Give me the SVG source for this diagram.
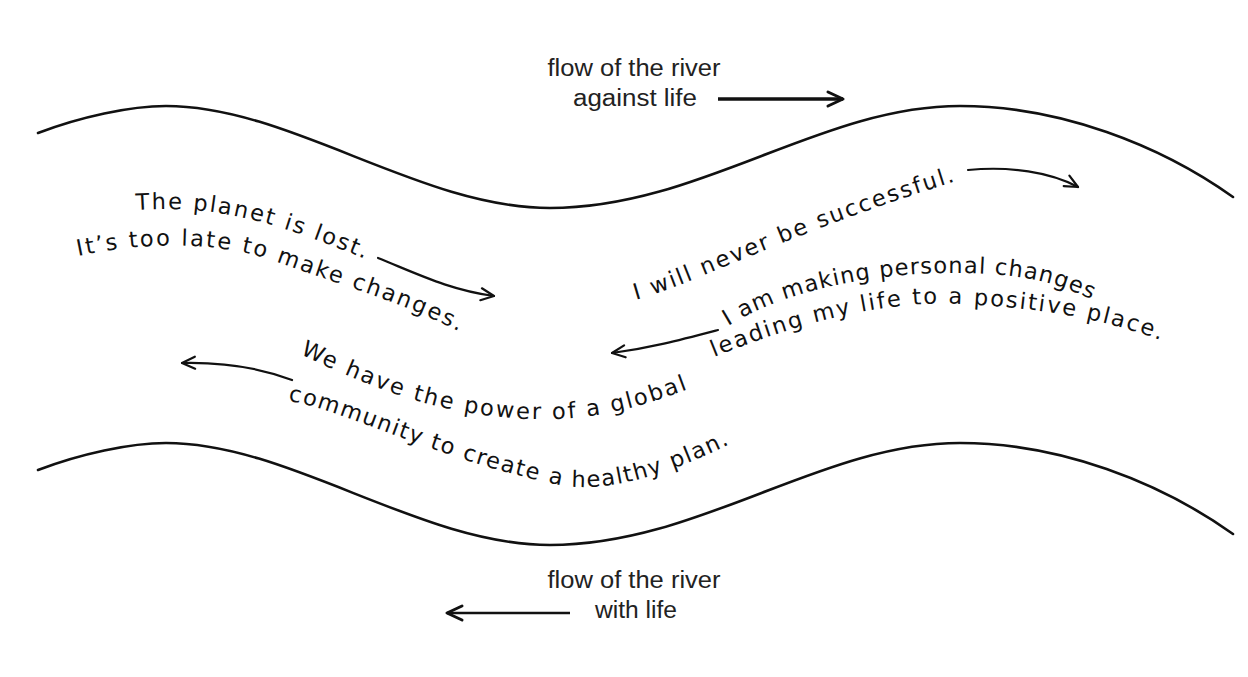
<svg xmlns="http://www.w3.org/2000/svg" width="1248" height="677" viewBox="0 0 1248 677">
  <style>
    .bank { fill: none; stroke: #111; stroke-width: 2.6; stroke-linecap: round; }
    .hand { font-family: "DejaVu Sans", "Liberation Sans", sans-serif; font-size: 22.5px; fill: #111; }
    .title { font-family: "Liberation Sans", Arial, sans-serif; font-size: 23px; fill: #222; text-anchor: middle; }
    .arr { fill: none; stroke: #111; stroke-width: 2.2; stroke-linecap: round; }
    .flow { fill: none; stroke: #111; stroke-linecap: butt; }
  </style>
  <defs>
    <marker id="ah" viewBox="-16 -10 20 20" markerWidth="20" markerHeight="20" refX="0" refY="0" orient="auto" markerUnits="userSpaceOnUse">
      <path d="M-13,-6 L0,0 L-13,6" fill="none" stroke="#111" stroke-width="2.2" stroke-linecap="round" stroke-linejoin="round"/>
    </marker>
    <marker id="ahBig" viewBox="-20 -12 24 24" markerWidth="24" markerHeight="24" refX="0" refY="0" orient="auto" markerUnits="userSpaceOnUse">
      <path d="M-15,-7 L0,0 L-15,7" fill="none" stroke="#111" stroke-width="3" stroke-linecap="round" stroke-linejoin="round"/>
    </marker>
    <path id="p1" d="M136,210 C200,206 255,212 372,262 L392,271"/>
    <path id="p2" d="M78,256 C150,241 220,241 280,263 S400,301 462,333 L482,343"/>
    <path id="p3" d="M636,300 C700,282 790,232 960,180 L980,174"/>
    <path id="p4" d="M728,326 C790,288 880,272 960,273 S1070,288 1114,311 L1130,320"/>
    <path id="p5" d="M714,357 C790,326 880,300 960,304 S1100,318 1160,340 L1178,347"/>
    <path id="p6" d="M300,354 C360,382 420,409 500,417 S630,411 694,387 L712,380"/>
    <path id="p7" d="M288,401 C340,408 440,461 560,485 C610,495 680,469 732,443 L750,434"/>
  </defs>

  <rect width="1248" height="677" fill="#ffffff"/>

  <g id="river-banks">
    <path id="top-bank" class="bank" d="M38,133 C80,117 130,106 166,106 C290,106 420,208 550,208 C700,208 820,106 960,106 C1060,106 1160,145 1233,197"/>
    <path id="bottom-bank" class="bank" d="M38,470 C80,454 130,443 166,443 C290,443 420,545 550,545 C700,545 820,443 960,443 C1060,443 1160,482 1233,534"/>
  </g>

  <g id="label-against">
    <text class="title" x="634" y="76" textLength="173" lengthAdjust="spacingAndGlyphs">flow of the river</text>
    <text class="title" x="635" y="106" textLength="124" lengthAdjust="spacingAndGlyphs">against life</text>
  </g>
  <g id="label-with">
    <text class="title" x="634" y="588" textLength="173" lengthAdjust="spacingAndGlyphs">flow of the river</text>
    <text class="title" x="636" y="618" textLength="82" lengthAdjust="spacingAndGlyphs">with life</text>
  </g>

  <g id="thought-lost">
    <text class="hand" style="letter-spacing:2px"><textPath href="#p1">The planet is lost.</textPath></text>
    <text class="hand" style="letter-spacing:2.1px"><textPath href="#p2">It’s too late to make changes.</textPath></text>
  </g>
  <g id="thought-successful">
    <text class="hand" style="letter-spacing:2px"><textPath href="#p3">I will never be successful.</textPath></text>
  </g>
  <g id="thought-personal">
    <text class="hand" style="letter-spacing:1.1px"><textPath href="#p4">I am making personal changes</textPath></text>
    <text class="hand" style="letter-spacing:2px"><textPath href="#p5">leading my life to a positive place.</textPath></text>
  </g>
  <g id="thought-global">
    <text class="hand" style="letter-spacing:2.1px"><textPath href="#p6">We have the power of a global</textPath></text>
    <text class="hand" style="letter-spacing:1.5px"><textPath href="#p7">community to create a healthy plan.</textPath></text>
  </g>

  <g id="connectors">
    <path class="flow" stroke-width="3.4" d="M718,99 L843,99" marker-end="url(#ahBig)"/>
    <path class="flow" stroke-width="2.6" d="M570,613 L447,613" marker-end="url(#ahBig)"/>
    <path class="arr" d="M378,258 C420,275 450,290 494,296" marker-end="url(#ah)"/>
    <path class="arr" d="M968,170 C1010,166 1050,172 1078,187" marker-end="url(#ah)"/>
    <path class="arr" d="M718,330 C680,340 650,348 612,353" marker-end="url(#ah)"/>
    <path class="arr" d="M292,380 C260,368 225,362 182,363" marker-end="url(#ah)"/>
  </g>
</svg>
